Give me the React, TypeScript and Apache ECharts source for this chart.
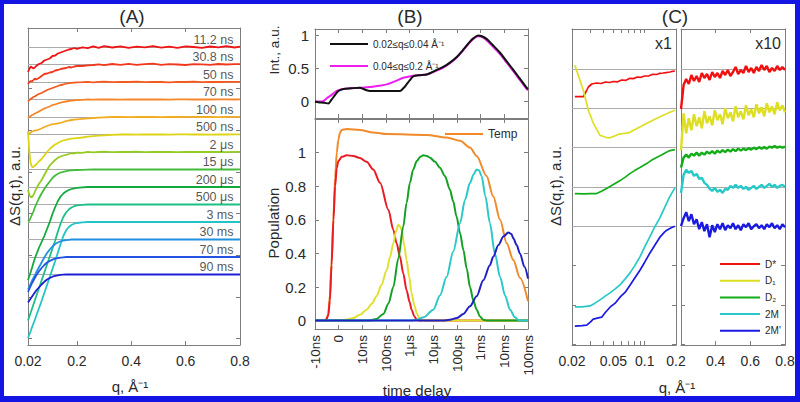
import React, { useEffect, useRef } from "react";
import * as echarts from "echarts";

const FONT = "'Liberation Sans', Arial, Helvetica, sans-serif";
const AXIS_GREY = "#7d7d7d";
const GRID_GREY = "#ababab";
const TEXT = "#2a2a2a";

// ---------------- Panel A : ΔS(q,t) at several delays ----------------
const qA = [0.02,0.025,0.03,0.035,0.04,0.045,0.05,0.06,0.07,0.08,0.09,0.1,0.11,0.12,0.13,0.14,0.15,0.16,0.17,0.18,0.19,0.2,0.22,0.24,0.26,0.28,0.3,0.33,0.36,0.39,0.42,0.45,0.48,0.51,0.54,0.57,0.6,0.63,0.66,0.69,0.72,0.75,0.78,0.8];
const delayLabelsA = ["11.2 ns","30.8 ns","50 ns","70 ns","100 ns","500 ns","2 μs","15 μs","200 μs","500 μs","3 ms","30 ms","70 ms","90 ms"];
const delayColorsA = ["#f01414","#f2381c","#f45a1e","#f5862a","#f2ac22","#dcd414","#94cc24","#42bc3a","#12aa3c","#1cbf86","#22c4c6","#2290e0","#2452e2","#1e1ed2"];
const dS_11_2ns = [-25,-22,-19.5,-20.5,-21.5,-20.5,-19,-17,-16,-13.5,-12.5,-11.5,-9,-8.5,-6.5,-5.5,-4.5,-3.5,-2.5,-2,-1,-1.8,-0.3,-1.2,0.6,-0.8,0.8,-0.5,0.7,-0.9,0.4,-0.3,0.9,-0.6,0.3,-0.8,0.6,0,-0.9,0.5,-0.3,0.8,-0.5,0.3];
const dS_30_8ns = [-19.5,-17.5,-16.5,-17,-15.5,-14,-15,-13.5,-11.5,-9.5,-9,-8,-7.5,-6,-5.5,-4.5,-4,-3.5,-2.5,-3,-2,-1.5,-1.5,-0.8,-0.5,0.2,-0.6,0.5,-0.3,0.6,-0.4,0.3,0.8,-0.3,0.4,0,-0.5,0.4,0.1,-0.4,0.5,0,0.3,0.4];
const dS_50ns = [-19.5,-18,-17,-16,-15,-14.5,-13.5,-12,-11,-9.5,-8,-7,-6,-5,-4,-3,-2.5,-1.5,-1.2,-0.8,-0.6,-0.4,-0.2,0.2,-0.3,0.1,0.3,-0.2,0.2,0,0.3,-0.2,0.2,0,-0.3,0.2,0,0.3,-0.1,0.2,0,0.2,0.1,0.2];
const dS_70ns = [-18.5,-17.5,-16.5,-15.5,-15,-14,-13.5,-12,-10.5,-9,-8,-7,-5.5,-4.8,-4,-3.2,-2.5,-2,-1.5,-1.2,-0.8,-0.6,-0.3,0,-0.2,0.2,0,0.2,-0.1,0.2,0,0.2,0,0.1,-0.1,0.2,0.1,0,0.2,0,0.1,0.2,0,0.1];
const dS_100ns = [-17.5,-16.5,-15.5,-14.5,-14,-13.5,-13.5,-12.5,-11.5,-10,-9,-8,-7.2,-6.8,-6.3,-5.8,-5,-4.2,-3.5,-3,-2.6,-2.3,-1.8,-1.3,-1,-0.6,-0.3,0,0.2,-0.1,0.2,0,0.1,-0.1,0.2,0,0.1,0.2,0,0.1,-0.1,0.2,0.1,0.2];
const dS_500ns = [3,-18,-29,-32.5,-32.5,-31,-30,-27,-24.5,-21,-17.5,-14.5,-12,-10,-8.5,-7,-6,-5.3,-4.7,-4.2,-3.9,-3.6,-3,-2.2,-1.7,-1.2,-0.8,-0.4,0,0.2,-0.1,0.2,0,0.2,-0.1,0.1,0.2,0,0.1,-0.1,0.2,0,0.1,0.2];
const dS_2us = [-38,-43,-45,-45,-43,-40,-37,-32,-28,-23,-18,-13.5,-10.5,-8,-5.8,-4.5,-3.5,-2.8,-2,-1.2,-1.5,-0.6,-0.8,0.2,-0.3,0,0.3,-0.2,0.2,0,0.3,-0.1,0.1,0,0.2,-0.1,0.1,0,0.2,0,0.1,-0.1,0.1,0.1];
const dS_15us = [-52,-51,-48,-45,-42,-38,-35,-29,-24,-19.5,-15.5,-12,-8.5,-6,-4.3,-3,-2.3,-1.7,-1.2,-0.9,-0.7,-0.5,-0.3,-0.1,0,0.1,0,0.1,0,0.1,0,0.1,0,0.1,0,0.1,0,0.1,0,0.1,0,0.1,0,0.1];
const dS_200us = [-93,-89,-85,-80.5,-76,-71.5,-68,-61,-55,-49,-42,-35,-27,-20,-14,-9.5,-6.5,-4.5,-3,-2,-1.3,-0.8,-0.3,0,0.1,0,0.1,0,0.1,0,0.1,0,0.1,0,0.1,0,0.1,0,0.1,0,0.1,0,0.1,0];
const dS_500us = [-116,-112,-108,-104,-100,-96,-92,-84,-76,-68,-60,-52,-44,-36,-27,-19,-12.5,-8,-5,-3,-1.7,-0.8,-0.3,0,0.1,0,0.1,0,0.1,0,0.1,0,0.1,0,0.1,0,0.1,0,0.1,0,0.1,0,0.1,0];
const dS_3ms = [-116,-112.5,-109,-105,-101.5,-98,-94,-86.5,-79,-71,-63,-55,-47,-39,-30.5,-22,-14,-8.5,-5,-3,-1.7,-1,-0.4,0,0.1,0,0.1,0,0.1,0,0.1,0,0.1,0,0.1,0,0.1,0,0.1,0,0.1,0,0.1,0];
const dS_30ms = [-50,-47,-44,-41,-38.5,-36,-33,-28,-23,-18,-13.5,-10,-7,-4.5,-3,-1.8,-1,-0.6,-0.3,0,0.1,0,0.1,0,0.1,0,0.1,0,0.1,0,0.1,0,0.1,0,0.1,0,0.1,0,0.1,0,0.1,0,0.1,0];
const dS_70ms = [-35,-32,-29,-26,-23.5,-21,-18.5,-14.5,-11,-8,-5.5,-4,-2.6,-1.7,-1,-0.6,-0.3,0,0.1,0,0.1,0,0.1,0,0.1,0,0.1,0,0.1,0,0.1,0,0.1,0,0.1,0,0.1,0,0.1,0,0.1,0,0.1,0];
const dS_90ms = [-28,-26,-24,-22,-20,-18,-16,-13,-10,-7.3,-5,-3.5,-2.2,-1.4,-0.8,-0.4,-0.2,0,0.1,0,0.1,0,0.1,0,0.1,0,0.1,0,0.1,0,0.1,0,0.1,0,0.1,0,0.1,0,0.1,0,0.1,0,0.1,0];
const curvesA = [dS_11_2ns,dS_30_8ns,dS_50ns,dS_70ns,dS_100ns,dS_500ns,dS_2us,dS_15us,dS_200us,dS_500us,dS_3ms,dS_30ms,dS_70ms,dS_90ms];
const xTicksA = [0.02,0.2,0.4,0.6,0.8];

// ---------------- Panel B : intensities and populations ----------------
const timeTickLabels = ["-10ns","0","10ns","100ns","1μs","10μs","100μs","1ms","10ms","100ms"];
const lowQName = "0.02≤q≤0.04 Å⁻¹";
const highQName = "0.04≤q≤0.2 Å⁻¹";
const lowQT = [0,0.14,0.4,0.56,0.7,0.85,0.99,1.2,1.5,1.9,2.05,2.18,2.32,3.0,3.59,3.73,3.87,4.0,4.15,4.4,4.72,5.14,5.4,5.7,6.0,6.27,6.5,6.69,6.9,7.05,7.25,7.5,7.82,8.1,8.38,8.65,8.94,9.0];
const lowQInt = [0,-0.01,-0.02,-0.03,0.03,0.1,0.16,0.19,0.2,0.21,0.19,0.17,0.16,0.16,0.16,0.2,0.26,0.32,0.38,0.4,0.41,0.48,0.52,0.59,0.68,0.79,0.89,0.96,1.0,0.99,0.95,0.86,0.74,0.61,0.48,0.35,0.21,0.19];
const highQT = [0,0.3,0.5,0.7,0.92,1.2,1.9,2.32,2.7,3.03,3.4,3.73,4.15,4.4,4.72,5.14,5.4,5.7,6.0,6.27,6.5,6.69,6.9,7.05,7.25,7.5,7.82,8.1,8.38,8.65,8.94,9.0];
const highQInt = [0,0,0.05,0.1,0.16,0.19,0.21,0.22,0.24,0.26,0.31,0.36,0.39,0.4,0.41,0.47,0.51,0.58,0.67,0.78,0.88,0.95,0.99,0.98,0.93,0.84,0.72,0.59,0.46,0.33,0.19,0.17];

const tempT = [0,0.4,0.49,0.56,0.63,0.7,0.78,0.85,0.92,0.99,1.06,1.13,1.34,1.9,2.46,3.03,4.72,5.56,6.13,6.55,6.83,7.25,7.53,7.82,8.1,8.38,8.66,9.0];
const tempPop = [0,0,0.01,0.04,0.15,0.35,0.62,0.85,1.0,1.08,1.12,1.135,1.14,1.135,1.12,1.11,1.105,1.09,1.07,1.03,0.98,0.86,0.74,0.6,0.46,0.36,0.255,0.115];
const dStarT = [0,0.45,0.56,0.63,0.7,0.78,0.85,0.92,0.99,1.13,1.34,1.62,1.9,2.18,2.46,2.75,3.1,3.31,3.45,3.59,3.73,3.87,4.0,4.08,4.2,4.3,4.45,9];
const dStarPop = [0,0,0.03,0.12,0.33,0.6,0.8,0.91,0.95,0.975,0.984,0.98,0.968,0.945,0.9,0.82,0.66,0.54,0.46,0.38,0.28,0.18,0.11,0.065,0.025,0.005,0,0];
const d1T = [0,1.0,1.3,1.62,1.9,2.18,2.4,2.6,2.8,3.03,3.17,3.31,3.42,3.52,3.6,3.66,3.77,3.87,3.98,4.08,4.2,4.3,4.4,4.5,9];
const d1Pop = [0,0,0.005,0.015,0.035,0.065,0.1,0.145,0.21,0.3,0.38,0.46,0.53,0.57,0.56,0.54,0.45,0.36,0.26,0.165,0.09,0.044,0.015,0,0];
const d2T = [0,2.3,2.6,2.89,3.1,3.31,3.52,3.73,3.87,4.01,4.15,4.3,4.45,4.58,4.72,4.86,5.07,5.28,5.49,5.7,5.84,5.98,6.13,6.27,6.41,6.55,6.69,6.83,6.97,7.11,7.25,9];
const d2Pop = [0,0,0.01,0.04,0.1,0.2,0.37,0.56,0.7,0.82,0.9,0.95,0.975,0.984,0.98,0.97,0.945,0.91,0.86,0.78,0.71,0.62,0.52,0.42,0.31,0.2,0.12,0.065,0.025,0.005,0,0];
const m2T = [0,4.0,4.3,4.6,5.0,5.28,5.56,5.84,6.13,6.34,6.55,6.7,6.83,6.93,7.04,7.2,7.39,7.6,7.82,8.03,8.24,8.45,8.59,8.75,9];
const m2Pop = [0,0,0.005,0.02,0.065,0.15,0.26,0.41,0.58,0.72,0.82,0.87,0.9,0.895,0.86,0.74,0.58,0.4,0.26,0.15,0.065,0.02,0.003,0,0];
const m2pT = [0,5.4,5.7,6.0,6.27,6.55,6.83,7.11,7.39,7.53,7.75,7.96,8.17,8.3,8.38,8.52,8.66,8.85,9.0];
const m2pPop = [0,0,0.005,0.015,0.04,0.085,0.145,0.24,0.33,0.38,0.45,0.5,0.525,0.515,0.49,0.45,0.4,0.32,0.25];

// ---------------- Panel C : species difference curves ----------------
const speciesNames = ["D*","D₁","D₂","2M","2M'"];
const speciesColors = ["#f01010","#dede22","#12ad18","#26c8c8","#1a1ae0"];
const cLeftQ_Dstar = [0.0213,0.0257,0.0275,0.0287,0.031,0.0345,0.038,0.042,0.046,0.05,0.055,0.06,0.066,0.072,0.078,0.085,0.092,0.1,0.11,0.12,0.13,0.14,0.15,0.16,0.175,0.185,0.195];
const cLeft_Dstar = [-27.7,-27.7,-22,-18,-15,-14,-14.5,-13,-13.5,-12.5,-12.8,-11,-11.3,-9.3,-9.6,-8,-8.3,-7,-6.8,-5.3,-5.5,-4.3,-4,-3.6,-3,-2.3,-2];
const cLeftQ_D1 = [0.0213,0.0235,0.0257,0.0287,0.0321,0.0345,0.0372,0.042,0.0464,0.052,0.0579,0.065,0.0722,0.078,0.085,0.095,0.1045,0.115,0.125,0.138,0.151,0.163,0.175,0.185,0.195];
const cLeft_D1 = [43,30,18,-2,-15,-21,-27,-29,-29.5,-27.5,-25.5,-25,-24,-22,-20,-17.5,-15,-13,-11,-9,-7,-5.5,-4,-3,-2];
const cLeftQ_D2 = [0.0213,0.026,0.03,0.0345,0.038,0.043,0.05,0.058,0.065,0.072,0.08,0.09,0.1045,0.115,0.13,0.145,0.16,0.175,0.195];
const cLeft_D2 = [-46,-46.3,-46,-46,-44,-41,-37,-33,-29.5,-26,-23,-20,-16,-13,-10,-7.5,-5,-3,-2];
const cLeftQ_2M = [0.0213,0.025,0.0298,0.033,0.0372,0.042,0.0464,0.052,0.0579,0.065,0.0722,0.08,0.09,0.1,0.112,0.125,0.14,0.155,0.17,0.185,0.195];
const cLeft_2M = [-120,-120,-119,-116.5,-113,-109,-106,-102,-98,-92,-86,-79,-70,-60,-50,-40,-31,-21,-12,-5,-1];
const cLeftQ_2Mp = [0.0213,0.025,0.0277,0.03,0.032,0.035,0.0386,0.042,0.0464,0.052,0.0579,0.065,0.0722,0.08,0.09,0.1,0.112,0.125,0.14,0.155,0.163,0.18,0.195];
const cLeft_2Mp = [-100,-99.5,-99,-96,-93,-92,-91,-86,-81,-77,-71,-66,-59,-52,-44,-36,-27,-19,-11,-6,-4,-1.5,0];
const qRight = [0.2,0.215,0.23,0.245,0.26,0.275,0.29,0.305,0.32,0.335,0.35,0.365,0.38,0.395,0.41,0.425,0.44,0.455,0.47,0.485,0.5,0.515,0.53,0.545,0.56,0.575,0.59,0.605,0.62,0.635,0.65,0.665,0.68,0.695,0.71,0.725,0.74,0.755,0.77,0.785,0.8];
const cRight_Dstar = [-40,-16,-10,-15,-6,-12,-7,-13,-4,-9,-5,-11,-3,-8,-4,-9,-2,-6,-1,-7,-3,2,-5,-1,-4,3,-3,1,-4,2,-2,4,-1,3,-3,1,-2,3,-1,2,-1];
const cRight_D1 = [-42,-5,-25,-10,-22,-6,-18,-9,-20,-3,-15,-8,-17,-2,-12,-6,-16,0,-10,-4,-13,2,-9,-3,-11,3,-7,-1,-9,4,-5,1,-8,5,-4,2,-6,6,-2,3,-4];
const cRight_D2 = [-20,-10,-7,-10,-6,-8,-5,-8,-5,-7,-4,-6,-3.5,-6,-3,-5,-2.5,-4.5,-2,-4,-1.5,-3.5,-1,-3,-1,-2.5,-0.5,-2,0,-1.5,0.5,-1,0.5,-1,1,0,1.5,0,1,0,1];
const cRight_2M = [-6,12,17,14,16,11,13,8,9,4,2,-2,-4,-1,-5,-3,-6,-2,-3,1,-1,2,-1,1,-2,0,-3,-1,1,-2,0,2,-1,1,3,0,2,-1,1,2,0];
const cRight_2Mp = [0,8,14,5,12,2,7,-3,4,-5,2,-11,1,-6,2,-3,3,-4,1,-2,3,-3,1,-4,2,-1,3,-3,0,2,-2,1,-3,2,-1,3,-2,1,-3,2,-1];
const cLeftQs = [cLeftQ_Dstar,cLeftQ_D1,cLeftQ_D2,cLeftQ_2M,cLeftQ_2Mp];
const cLeftVals = [cLeft_Dstar,cLeft_D1,cLeft_D2,cLeft_2M,cLeft_2Mp];
const cRightVals = [cRight_Dstar,cRight_D1,cRight_D2,cRight_2M,cRight_2Mp];
const cLeftTickQ = [0.02,0.03,0.04,0.05,0.06,0.07,0.08,0.09,0.1,0.2];
const cLeftLabelQ = [0.02,0.05,0.1,0.2];

// vertical stacking constants (a.u.)
const STEP_A = 17.5;
const TICK_STEP_A = 41.667;
const STEP_C = 39.3;

const lg = (v: number) => Math.log10(v);

function axisCommon() {
  return {
    axisLine: { show: true, onZero: false, lineStyle: { color: AXIS_GREY, width: 1 } },
    splitLine: { show: false },
    axisPointer: { show: false },
  };
}

function xAxis(grid: number, position: string, min: number, max: number, ticks: number[], labels?: number[], formatter?: any, extra: any = {}) {
  return {
    type: "value", gridIndex: grid, position, min, max,
    ...axisCommon(),
    axisTick: { show: true, inside: true, length: 4, lineStyle: { color: AXIS_GREY }, customValues: ticks },
    axisLabel: labels
      ? { show: true, customValues: labels, formatter, color: TEXT, fontSize: 14, fontFamily: FONT, margin: 9, ...extra }
      : { show: false },
  };
}

function yAxis(grid: number, position: string, min: number, max: number, ticks: number[], labels?: number[], extra: any = {}) {
  return {
    type: "value", gridIndex: grid, position, min, max,
    ...axisCommon(),
    axisTick: { show: true, inside: true, length: 4, lineStyle: { color: AXIS_GREY }, customValues: ticks },
    axisLabel: labels
      ? { show: true, customValues: labels, color: TEXT, fontSize: 15, fontFamily: FONT, margin: 8, ...extra }
      : { show: false },
  };
}

function lineSeries(name: string, xi: number, data: number[][], color: string, width: number, extra: any = {}) {
  return {
    type: "line", name, xAxisIndex: xi, yAxisIndex: xi, data, color,
    symbol: "none", showSymbol: false, silent: true, z: 8,
    lineStyle: { color, width },
    emphasis: { disabled: true },
    ...extra,
  };
}

function baselines(xi: number, xmin: number, values: number[]) {
  return {
    type: "line", xAxisIndex: xi, yAxisIndex: xi, data: [[xmin, values[0]]],
    symbol: "none", silent: true, z: 1, lineStyle: { opacity: 0 },
    markLine: {
      silent: true, symbol: ["none", "none"], label: { show: false }, z: 1,
      lineStyle: { color: GRID_GREY, width: 1, type: "solid" },
      emphasis: { disabled: true },
      data: values.map((v) => ({ yAxis: v })),
    },
  };
}

function buildOption() {
  const series: any[] = [];
  // A
  const baseA = curvesA.map((_, i) => -STEP_A * i);
  series.push(baselines(0, 0.02, baseA));
  curvesA.forEach((c, i) => {
    series.push(lineSeries("A " + delayLabelsA[i], 0, qA.map((q, k) => [q, baseA[i] + c[k]]), delayColorsA[i], 1.8));
  });
  series.push({
    type: "scatter", xAxisIndex: 0, yAxisIndex: 0, symbolSize: 0, silent: true, z: 9,
    itemStyle: { color: "rgba(0,0,0,0)" },
    data: delayLabelsA.map((n, i) => ({ name: n, value: [0.776, baseA[i] + 7.5] })),
    label: { show: true, position: "left", distance: 0, formatter: "{b}", fontSize: 12.5, color: TEXT, fontFamily: FONT },
  });
  // B top
  series.push(lineSeries(highQName, 2, highQT.map((t, k) => [t, highQInt[k]]), "#ee1eee", 2, { smooth: 0.3 }));
  series.push(lineSeries(lowQName, 2, lowQT.map((t, k) => [t, lowQInt[k]]), "#111111", 2, { smooth: 0.3 }));
  // B bottom
  const popSets: [string, number[], number[], string][] = [
    ["Temp", tempT, tempPop, "#f08a2a"],
    ["pop D*", dStarT, dStarPop, "#e81c22"],
    ["pop D1", d1T, d1Pop, "#e0e032"],
    ["pop D2", d2T, d2Pop, "#14a024"],
    ["pop 2M", m2T, m2Pop, "#2cc8c8"],
    ["pop 2M'", m2pT, m2pPop, "#2020c4"],
  ];
  popSets.forEach(([n, t, p, c]) => {
    series.push(lineSeries(n, 4, t.map((tt, k) => [tt, p[k]]), c, 2, { smooth: 0.3, smoothMonotone: "x" }));
  });
  // C
  const baseC = speciesNames.map((_, i) => -STEP_C * i);
  series.push(baselines(6, lg(0.02), baseC));
  series.push(baselines(8, 0.2, baseC));
  speciesNames.forEach((n, i) => {
    series.push(lineSeries(n, 6, cLeftQs[i].map((q, k) => [lg(q), baseC[i] + cLeftVals[i][k]]), speciesColors[i], 1.7));
  });
  speciesNames.forEach((n, i) => {
    series.push(lineSeries(n, 8, qRight.map((q, k) => [q, baseC[i] + cRightVals[i][k]]), speciesColors[i], 2.4));
  });

  const yTicksA = [0, 1, 2, 3, 4, 5, 6, 7].map((k) => -TICK_STEP_A * k);
  const yTicksC = [0, 1, 2, 3, 4, 5, 6, 7].map((k) => -STEP_C * k);
  const bIdx = timeTickLabels.map((_, i) => i);
  const fmtTime = (v: number) => timeTickLabels[Math.round(v)];
  const fmtLog = (v: number) => String(Number(Math.pow(10, v).toPrecision(2)));

  const xAxes = [
    xAxis(0, "bottom", 0.02, 0.8, xTicksA, xTicksA),
    xAxis(0, "top", 0.02, 0.8, xTicksA),
    xAxis(1, "bottom", 0, 9, bIdx),
    xAxis(1, "top", 0, 9, bIdx),
    xAxis(2, "bottom", 0, 9, bIdx, bIdx, fmtTime, { rotate: 90, fontSize: 13.5, margin: 6 }),
    xAxis(2, "top", 0, 9, bIdx),
    xAxis(3, "bottom", lg(0.02), lg(0.2), cLeftTickQ.map(lg), cLeftLabelQ.map(lg), fmtLog),
    xAxis(3, "top", lg(0.02), lg(0.2), cLeftTickQ.map(lg)),
    xAxis(4, "bottom", 0.2, 0.8, [0.4, 0.6], [0.4, 0.6, 0.8]),
    xAxis(4, "top", 0.2, 0.8, [0.4, 0.6]),
  ];
  const yAxes = [
    yAxis(0, "left", -298, 19, yTicksA),
    yAxis(0, "right", -298, 19, yTicksA),
    yAxis(1, "left", -0.25, 1.1, [0, 0.5, 1], [0, 0.5, 1], { margin: 6 }),
    yAxis(1, "right", -0.25, 1.1, [0, 0.5, 1]),
    yAxis(2, "left", -0.05, 1.2, [0, 0.2, 0.4, 0.6, 0.8, 1], [0, 0.2, 0.4, 0.6, 0.8, 1], { margin: 9 }),
    yAxis(2, "right", -0.05, 1.2, [0, 0.2, 0.4, 0.6, 0.8, 1]),
    yAxis(3, "left", -276, 40, yTicksC),
    yAxis(3, "right", -276, 40, yTicksC),
    yAxis(4, "left", -276, 40, yTicksC),
    yAxis(4, "right", -276, 40, yTicksC),
  ];

  const legendText = { color: TEXT, fontFamily: FONT, fontSize: 10 };
  const txt = (text: string, x: number, y: number, size: number, rot = 0, align = "center") => ({
    type: "text", x, y, rotation: rot, silent: true,
    style: { text, fontSize: size, fontFamily: FONT, fill: TEXT, align, verticalAlign: "middle" },
  });
  const BLUE = "#1414e4";

  return {
    animation: false,
    backgroundColor: "#ffffff",
    textStyle: { fontFamily: FONT },
    grid: [
      { left: 28, top: 28, width: 212, height: 317 },
      { left: 315, top: 29, width: 213, height: 89 },
      { left: 315, top: 119, width: 213, height: 210 },
      { left: 572, top: 29, width: 104, height: 316 },
      { left: 681, top: 29, width: 104, height: 316 },
    ],
    xAxis: xAxes,
    yAxis: yAxes,
    legend: [
      { data: [lowQName, highQName], orient: "vertical", left: 325, top: 33, icon: "rect", itemWidth: 38, itemHeight: 2, itemGap: 10, selectedMode: false, textStyle: { ...legendText, lineHeight: 12 } },
      { data: ["Temp"], left: 440, top: 123, icon: "rect", itemWidth: 38, itemHeight: 2, selectedMode: false, textStyle: { ...legendText, fontSize: 12 } },
      { data: speciesNames, orient: "vertical", left: 715, top: 253, icon: "rect", itemWidth: 40, itemHeight: 2, itemGap: 4.7, selectedMode: false, textStyle: { ...legendText, lineHeight: 12 } },
    ],
    series,
    graphic: [
      { type: "rect", shape: { x: 0, y: 0, width: 800, height: 4 }, style: { fill: BLUE }, silent: true },
      { type: "rect", shape: { x: 0, y: 396, width: 800, height: 6 }, style: { fill: BLUE }, silent: true },
      { type: "rect", shape: { x: 0, y: 0, width: 4, height: 402 }, style: { fill: BLUE }, silent: true },
      { type: "rect", shape: { x: 795, y: 0, width: 5, height: 402 }, style: { fill: BLUE }, silent: true },
      txt("(A)", 132, 16, 19),
      txt("(B)", 410, 16, 19),
      txt("(C)", 675, 16, 19),
      txt("ΔS(q,t), a.u.", 14, 186, 15, Math.PI / 2),
      txt("ΔS(q,t), a.u.", 555, 186, 15, Math.PI / 2),
      txt("Int., a.u.", 274, 50, 13.5, Math.PI / 2),
      txt("Population", 273, 223, 15, Math.PI / 2),
      txt("q, Å⁻¹", 130, 386, 15),
      txt("time delay", 417, 390, 15),
      txt("q, Å⁻¹", 677, 387, 15),
      txt("x1", 672, 43, 16, 0, "right"),
      txt("x10", 781, 43, 16, 0, "right"),
    ],
  };
}

export default function App() {
  const ref = useRef<HTMLDivElement>(null);
  useEffect(() => {
    document.body.style.margin = "0";
    const chart = echarts.init(ref.current!, undefined, { renderer: "svg", width: 800, height: 402 });
    chart.setOption(buildOption() as any);
    return () => chart.dispose();
  }, []);
  return <div ref={ref} style={{ width: 800, height: 402 }} />;
}
